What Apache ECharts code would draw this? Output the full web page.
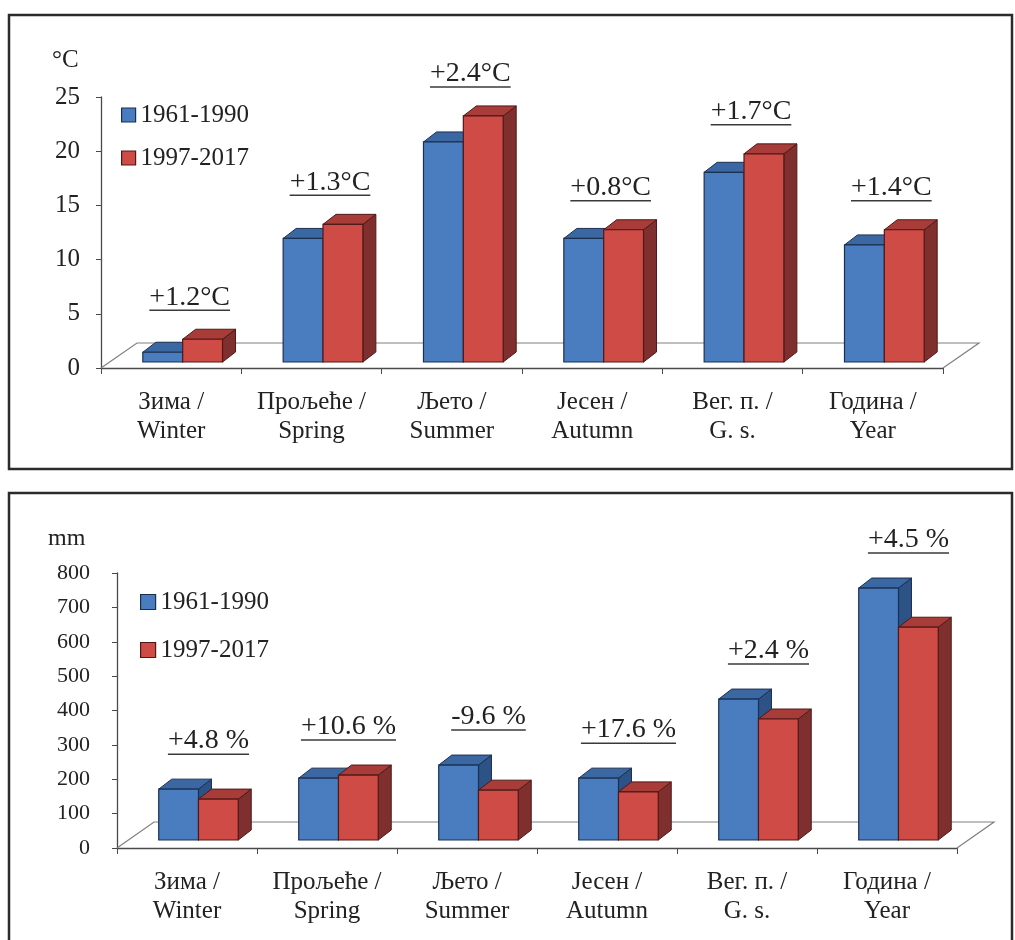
<!DOCTYPE html>
<html>
<head>
<meta charset="utf-8">
<script src="https://cdn.jsdelivr.net/npm/echarts@6/dist/echarts.min.js"></script>
<style>
  html, body { margin: 0; padding: 0; background: #ffffff; }
  #chart { width: 1015px; height: 940px; }
</style>
</head>
<body>
<div id="chart"></div>
<script>
// Seasonal categories (Serbian Cyrillic / English)
const categories = ['Зима /\nWinter', 'Прољеће /\nSpring', 'Љето /\nSummer', 'Јесен /\nAutumn', 'Вег. п. /\nG. s.', 'Година /\nYear'];
const periods = ['1961-1990', '1997-2017'];

// Mean air temperature, °C
const tempBase   = [0.9, 11.4, 20.3, 11.4, 17.5, 10.8];
const tempRecent = [2.1, 12.7, 22.7, 12.2, 19.2, 12.2];
const tempChange = ['+1.2°C', '+1.3°C', '+2.4°C', '+0.8°C', '+1.7°C', '+1.4°C'];
const tempAxis   = { min: 0, max: 25, interval: 5 };

// Precipitation, mm
const precBase   = [148, 180, 218, 180, 410, 733];
const precRecent = [119, 189, 145, 140, 352, 619];
const precChange = ['+4.8 %', '+10.6 %', '-9.6 %', '+17.6 %', '+2.4 %', '+4.5 %'];
const precAxis   = { min: 0, max: 800, interval: 100 };

const FONT = "'Liberation Serif', 'Times New Roman', serif";
const TEXT = '#222222';

// Face colours of the pseudo-3D columns
const FACE = [
  { front: '#4a7dc0', top: '#3b68a3', side: '#2d5285', stroke: '#1a3050' },
  { front: '#cf4b46', top: '#a83c38', side: '#7f2f2d', stroke: '#501918' }
];
const DEPTH = [13, -10];          // column depth projection (px)
const BAR_W = 0.284;              // column width as share of the category band
const GROUP_SHIFT = 0.082;        // columns sit slightly right of the band centre

// Layout of the two panels
const panels = [
  { grid: { left: 101, top: 97, width: 842, height: 271 }, lift: 6, floor: [36, -25],
    labelGap: 42, labelShift: 7, tickFont: 25, tickMargin: 21, changeFont: 28,
    legend: { left: 116, top: 97, size: 14, gap: 17 },
    base: tempBase, recent: tempRecent, change: tempChange, axis: tempAxis },
  { grid: { left: 117, top: 573, width: 840, height: 275 }, lift: 8, floor: [37, -26],
    labelGap: 48, labelShift: 10, tickFont: 22, tickMargin: 27, changeFont: 28,
    legend: { left: 135, top: 584, size: 15, gap: 22 },
    base: precBase, recent: precRecent, change: precChange, axis: precAxis }
];

const measureCtx = document.createElement('canvas').getContext('2d');
function textWidth(t, font) { measureCtx.font = font; return measureCtx.measureText(t).width; }

// Outline of the chart floor behind the front axis line
function floorRenderer(p) {
  return function (params) {
    const cs = params.coordSys;
    const x0 = cs.x, x1 = cs.x + cs.width, y = cs.y + cs.height;
    const dx = p.floor[0], dy = p.floor[1];
    return {
      type: 'polyline',
      shape: { points: [[x0, y], [x0 + dx, y + dy], [x1 + dx, y + dy], [x1, y]] },
      style: { stroke: '#808080', lineWidth: 1.2, fill: null }
    };
  };
}

// One column: side face, top face, front face
function barRenderer(k, p) {
  return function (params, api) {
    const i = api.value(0), v = api.value(1);
    const top = api.coord([i, v]);
    const base = api.coord([i, 0]);
    const bw = api.size([1, 0])[0];
    const w = bw * BAR_W;
    const cx = base[0] + bw * GROUP_SHIFT;
    const x0 = k === 0 ? cx - w : cx;
    const x1 = x0 + w;
    const yb = base[1] - p.lift, yt = top[1] - p.lift;
    const dx = DEPTH[0], dy = DEPTH[1];
    const f = FACE[k];
    return {
      type: 'group',
      children: [
        { type: 'polygon', shape: { points: [[x1, yt], [x1 + dx, yt + dy], [x1 + dx, yb + dy], [x1, yb]] },
          style: { fill: f.side, stroke: f.stroke, lineWidth: 1 } },
        { type: 'polygon', shape: { points: [[x0, yt], [x1, yt], [x1 + dx, yt + dy], [x0 + dx, yt + dy]] },
          style: { fill: f.top, stroke: f.stroke, lineWidth: 1 } },
        { type: 'rect', shape: { x: x0, y: yt, width: w, height: yb - yt },
          style: { fill: f.front, stroke: f.stroke, lineWidth: 1.2 } }
      ]
    };
  };
}

// Underlined change annotation above each pair of columns
function changeRenderer(p) {
  const font = p.changeFont + 'px ' + FONT;
  return function (params, api) {
    const i = api.value(0);
    const pt = api.coord([i, api.value(1)]);
    const base = api.coord([i, 0]);
    const bw = api.size([1, 0])[0];
    const cx = base[0] + bw * GROUP_SHIFT + p.labelShift;
    const cy = pt[1] - p.lift - p.labelGap;
    const txt = p.change[i];
    const tw = textWidth(txt, font);
    return {
      type: 'group',
      children: [
        { type: 'text', x: cx, y: cy,
          style: { text: txt, font: font, fill: TEXT, align: 'center', verticalAlign: 'middle' } },
        { type: 'line', shape: { x1: cx - tw / 2, y1: cy + 13, x2: cx + tw / 2, y2: cy + 13 },
          style: { stroke: '#3a3a3a', lineWidth: 1.5 } }
      ]
    };
  };
}

const grid = [], xAxis = [], yAxis = [], series = [], legend = [];

panels.forEach(function (p, g) {
  grid.push(Object.assign({ containLabel: false }, p.grid));
  xAxis.push({
    type: 'category', gridIndex: g, data: categories,
    axisLine: { show: true, lineStyle: { color: '#4a4a4a', width: 1.3 } },
    axisTick: { show: true, length: 6, lineStyle: { color: '#4a4a4a' } },
    axisLabel: { interval: 0, fontFamily: FONT, fontSize: 25, lineHeight: 29, margin: 20, color: TEXT },
    splitLine: { show: false }
  });
  yAxis.push({
    type: 'value', gridIndex: g, min: p.axis.min, max: p.axis.max, interval: p.axis.interval,
    axisLine: { show: true, lineStyle: { color: '#4a4a4a', width: 1.3 } },
    axisTick: { show: true, length: 5, lineStyle: { color: '#4a4a4a' } },
    axisLabel: { fontFamily: FONT, fontSize: p.tickFont, margin: p.tickMargin, color: TEXT },
    splitLine: { show: false }
  });
  series.push({
    type: 'custom', name: 'floor' + g, xAxisIndex: g, yAxisIndex: g, silent: true, z: 1,
    renderItem: floorRenderer(p), data: [[0, 0]]
  });
  [p.base, p.recent].forEach(function (arr, k) {
    series.push({
      type: 'custom', name: periods[k], xAxisIndex: g, yAxisIndex: g, z: 2,
      itemStyle: { color: FACE[k].front },
      encode: { x: 0, y: 1 },
      renderItem: barRenderer(k, p),
      data: arr.map(function (v, i) { return [i, v]; })
    });
  });
  series.push({
    type: 'custom', name: 'change' + g, xAxisIndex: g, yAxisIndex: g, silent: true, z: 3,
    encode: { x: 0, y: 1 },
    renderItem: changeRenderer(p),
    data: p.base.map(function (v, i) { return [i, Math.max(v, p.recent[i])]; })
  });
  legend.push({
    orient: 'vertical', left: p.legend.left, top: p.legend.top,
    itemWidth: p.legend.size, itemHeight: p.legend.size, itemGap: p.legend.gap,
    icon: 'rect', selectedMode: false,
    textStyle: { fontFamily: FONT, fontSize: 25, lineHeight: 26, color: TEXT },
    data: periods.map(function (n, k) {
      return { name: n, itemStyle: { color: FACE[k].front, borderColor: FACE[k].stroke, borderWidth: 1.2 } };
    })
  });
});

const chart = echarts.init(document.getElementById('chart'), null, { renderer: 'canvas' });
chart.setOption({
  animation: false,
  backgroundColor: '#ffffff',
  grid: grid, xAxis: xAxis, yAxis: yAxis, legend: legend, series: series,
  graphic: [
    { type: 'rect', shape: { x: 9, y: 15, width: 1003, height: 454 },
      style: { fill: null, stroke: '#2b2b2b', lineWidth: 2.5 }, silent: true },
    { type: 'rect', shape: { x: 9, y: 493, width: 1003, height: 470 },
      style: { fill: null, stroke: '#2b2b2b', lineWidth: 2.5 }, silent: true },
    { type: 'text', x: 52, y: 60,
      style: { text: '°C', font: '25px ' + FONT, fill: TEXT, verticalAlign: 'middle' } },
    { type: 'text', x: 48, y: 539,
      style: { text: 'mm', font: '24px ' + FONT, fill: TEXT, verticalAlign: 'middle' } }
  ]
});
</script>
</body>
</html>
